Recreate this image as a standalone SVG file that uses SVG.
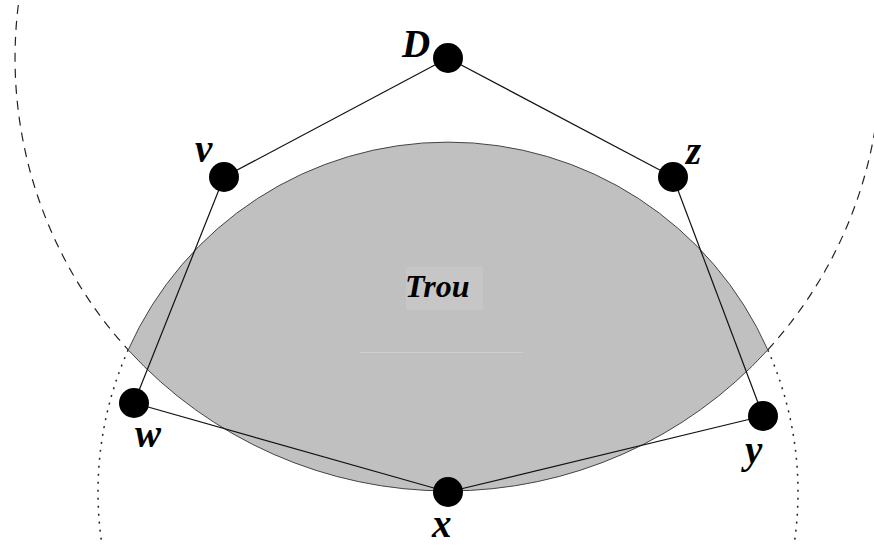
<svg xmlns="http://www.w3.org/2000/svg" width="874" height="548" viewBox="0 0 874 548">
<style>
.edge{stroke:#111;stroke-width:1.2;fill:none}
.node{fill:#000}
.lbl{font-family:"Liberation Serif","Times New Roman",serif;font-style:italic;font-weight:bold;fill:#000}
.dash{stroke:#222;stroke-width:1.2;fill:none;stroke-dasharray:9 7}
.dot{stroke:#222;stroke-width:1.5;fill:none;stroke-dasharray:2 6}
</style>
<rect width="874" height="548" fill="#fff"/>
<g id="circles">
<path class="dash" d="M18.3,5 A433,433 0 0 0 128.2,349.9"/>
<path class="dash" d="M767.8,349.9 A433,433 0 0 0 880,87.4"/>
<path class="dot" d="M128.2,349.9 A350,350 0 0 0 102,545"/>
<path class="dot" d="M767.8,349.9 A350,350 0 0 1 794,545"/>
</g>
<g id="trou">
<path d="M128.2,349.9 A350,350 0 0 1 767.8,349.9 A433,433 0 0 1 128.2,349.9 Z" fill="#c0c0c0" stroke="#444" stroke-width="1"/>
<rect x="406" y="267" width="77" height="43" fill="#c6c6c6"/>
<line x1="360" y1="352.5" x2="523" y2="352.5" stroke="#cfcfcf" stroke-width="1"/>
<text class="lbl" x="405" y="297" font-size="32">Trou</text>
</g>
<g id="connectors">
<line class="edge" x1="448" y1="58" x2="224" y2="177"/>
<line class="edge" x1="448" y1="58" x2="673" y2="177"/>
<line class="edge" x1="224" y1="177" x2="134" y2="403"/>
<line class="edge" x1="673" y1="177" x2="763" y2="416"/>
<line class="edge" x1="134" y1="403" x2="448" y2="492"/>
<line class="edge" x1="763" y1="416" x2="448" y2="492"/>
</g>
<g id="D"><circle class="node" cx="448" cy="58" r="15"/><text class="lbl" x="402" y="57" font-size="39">D</text></g>
<g id="v"><circle class="node" cx="224" cy="177" r="15"/><text class="lbl" x="195" y="162" font-size="39">v</text></g>
<g id="z"><circle class="node" cx="673" cy="177" r="15"/><text class="lbl" x="686" y="164" font-size="39">z</text></g>
<g id="w"><circle class="node" cx="134" cy="403" r="15"/><text class="lbl" x="135" y="447" font-size="39">w</text></g>
<g id="y"><circle class="node" cx="763" cy="416" r="15"/><text class="lbl" x="745" y="463" font-size="39">y</text></g>
<g id="x"><circle class="node" cx="448" cy="492" r="15"/><text class="lbl" x="432" y="537" font-size="39">x</text></g>
</svg>
